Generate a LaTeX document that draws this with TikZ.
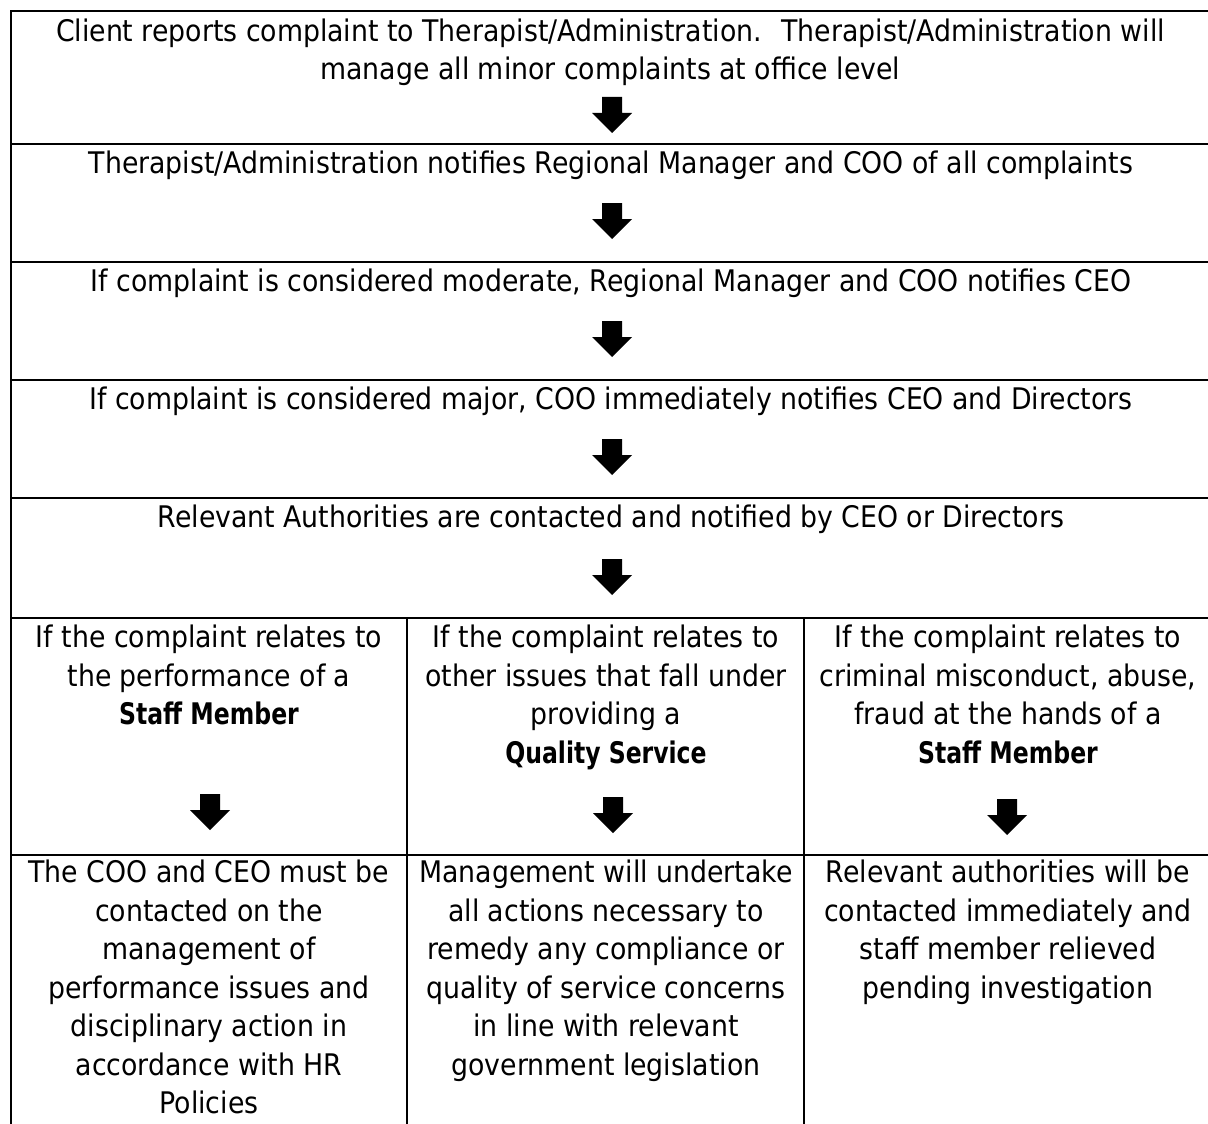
\documentclass[tikz,border=0pt]{standalone}
\usepackage{fontspec}
\setmainfont{DejaVu Sans Condensed}[BoldFeatures={FakeStretch=0.88}]
\newcommand\firstline{\rule{0pt}{0.8em}}
\begin{document}
\begin{tikzpicture}[x=0.75pt,y=-0.75pt,
  cell/.style={align=center, inner sep=0pt, anchor=north, font=\fontsize{22.3}{28.9}\selectfont},
  rule/.style={line width=1.5pt, line cap=rect},
  blockarrow/.style={fill=black}]
\useasboundingbox (0,0) rectangle (1208,1124);
% table rules
\draw[rule] (11,11) -- (1212,11);
\foreach \yy in {144,262,380,498,618,855} \draw[rule] (11,\yy) -- (1212,\yy);
\draw[rule] (11,11) -- (11,1130);
\draw[rule] (1212,11) -- (1212,1130);
\draw[rule] (407,618) -- (407,1130);
\draw[rule] (804,618) -- (804,1130);
% texts
\node[cell] (r1) at (610.5,17) {\firstline Client reports complaint to Therapist/Administration.~ Therapist/Administration will\\manage all minor complaints at office level};
\node[cell] (r2) at (611,149.2) {\firstline Therapist/Administration notifies Regional Manager and COO of all complaints};
\node[cell] (r3) at (611,267.2) {\firstline If complaint is considered moderate, Regional Manager and COO notifies CEO};
\node[cell] (r4) at (611,385.2) {\firstline If complaint is considered major, COO immediately notifies CEO and Directors};
\node[cell] (r5) at (611,503.2) {\firstline Relevant Authorities are contacted and notified by CEO or Directors};
\node[cell] (a1) at (209,623.7) {\firstline If the complaint relates to\\the performance of a\\\textbf{Staff Member}};
\node[cell] (a2) at (606,623.7) {\firstline If the complaint relates to\\other issues that fall under\\providing a\\\textbf{Quality Service}};
\node[cell] (a3) at (1008,623.7) {\firstline If the complaint relates to\\criminal misconduct, abuse,\\fraud at the hands of a\\\textbf{Staff Member}};
\node[cell] (b1) at (209,858.7) {\firstline The COO and CEO must be\\contacted on the\\management of\\performance issues and\\disciplinary action in\\accordance with HR\\Policies};
\node[cell] (b2) at (606,858.7) {\firstline Management will undertake\\all actions necessary to\\remedy any compliance or\\quality of service concerns\\in line with relevant\\government legislation};
\node[cell] (b3) at (1008,858.7) {\firstline Relevant authorities will be\\contacted immediately and\\staff member relieved\\pending investigation};
% block arrows
\foreach \cx/\ty in {612/97, 612/203, 612/321, 612/439, 612/559, 210/794, 613/797, 1007/799}{
  \fill[blockarrow] (\cx-10,\ty) -- (\cx+10,\ty) -- (\cx+10,\ty+16) -- (\cx+20,\ty+16)
    -- (\cx,\ty+36) -- (\cx-20,\ty+16) -- (\cx-10,\ty+16) -- cycle;
}
\end{tikzpicture}
\end{document}
